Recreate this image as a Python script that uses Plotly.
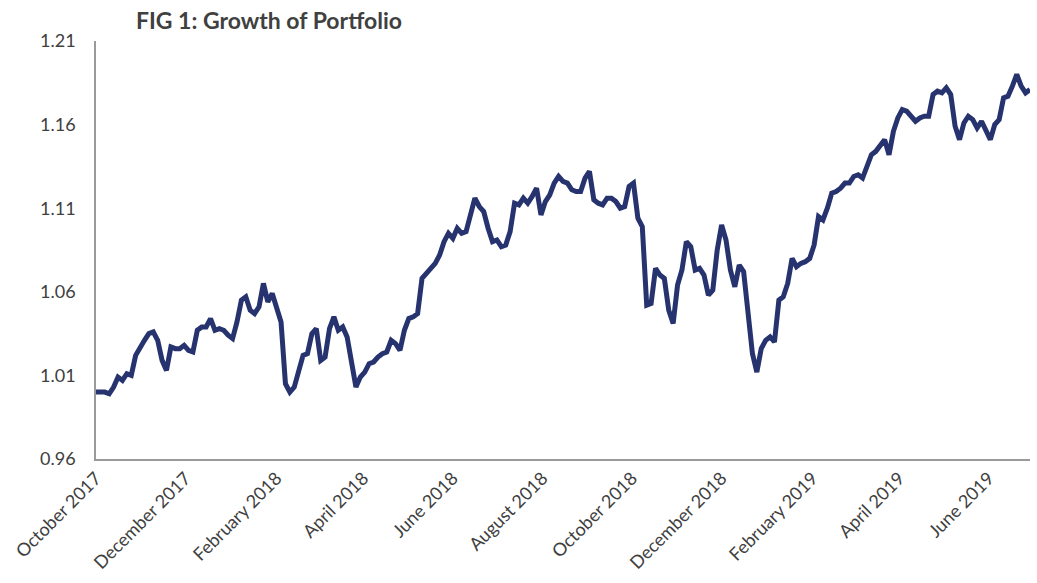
import pandas as pd
import plotly.graph_objects as go

title_text = "FIG 1: Growth of Portfolio"
start_date = "2017-10-01"
step = "3D"

portfolio_values = [
    1.000, 1.000, 1.000, 0.999, 1.003, 1.009, 1.007, 1.011, 1.010, 1.022,
    1.027, 1.031, 1.035, 1.036, 1.031, 1.019, 1.013, 1.027, 1.026, 1.026,
    1.028, 1.025, 1.024, 1.037, 1.039, 1.039, 1.044, 1.037, 1.038, 1.037,
    1.034, 1.032, 1.042, 1.055, 1.057, 1.049, 1.047, 1.051, 1.065, 1.054,
    1.059, 1.050, 1.042, 1.005, 1.000, 1.003, 1.012, 1.022, 1.023, 1.035,
    1.038, 1.019, 1.021, 1.038, 1.045, 1.037, 1.039, 1.033, 1.018, 1.003,
    1.009, 1.012, 1.017, 1.018, 1.021, 1.023, 1.024, 1.031, 1.029, 1.025,
    1.037, 1.044, 1.045, 1.047, 1.068, 1.071, 1.075, 1.077, 1.082, 1.090,
    1.095, 1.092, 1.098, 1.095, 1.096, 1.105, 1.116, 1.111, 1.108, 1.098,
    1.090, 1.091, 1.087, 1.088, 1.096, 1.113, 1.112, 1.116, 1.113, 1.117,
    1.122, 1.106, 1.114, 1.118, 1.125, 1.129, 1.126, 1.125, 1.121, 1.120,
    1.120, 1.128, 1.132, 1.115, 1.113, 1.112, 1.116, 1.116, 1.114, 1.110,
    1.111, 1.123, 1.125, 1.104, 1.099, 1.052, 1.053, 1.074, 1.070, 1.068,
    1.049, 1.041, 1.064, 1.073, 1.090, 1.087, 1.073, 1.074, 1.070, 1.058,
    1.061, 1.085, 1.100, 1.091, 1.073, 1.063, 1.076, 1.072, 1.049, 1.023,
    1.012, 1.026, 1.031, 1.033, 1.030, 1.055, 1.057, 1.065, 1.080, 1.075,
    1.077, 1.078, 1.080, 1.088, 1.105, 1.103, 1.110, 1.119, 1.120, 1.122,
    1.125, 1.125, 1.129, 1.130, 1.128, 1.136, 1.142, 1.144, 1.148, 1.151,
    1.142, 1.156, 1.164, 1.169, 1.168, 1.165, 1.162, 1.164, 1.165, 1.165,
    1.178, 1.180, 1.179, 1.182, 1.178, 1.159, 1.151, 1.161, 1.165, 1.163,
    1.158, 1.162, 1.157, 1.151, 1.160, 1.163, 1.176, 1.177, 1.183, 1.190,
    1.183, 1.179, 1.181,
]
dates = pd.date_range(start_date, periods=len(portfolio_values), freq=step)

y_ticks = [0.96, 1.01, 1.06, 1.11, 1.16, 1.21]
y_tick_labels = ["0.96", "1.01", "1.06", "1.11", "1.16", "1.21"]

text_color = "#404040"
axis_color = "#9A9A9A"
line_color = "#26336E"
font_family = "Lato, 'Open Sans', sans-serif"

fig = go.Figure(
    go.Scatter(
        x=dates,
        y=portfolio_values,
        mode="lines",
        line=dict(color=line_color, width=5),
        hoverinfo="skip",
    )
)

fig.update_layout(
    width=1037,
    height=583,
    margin=dict(l=96, r=7, t=41, b=124),
    paper_bgcolor="white",
    plot_bgcolor="white",
    showlegend=False,
    font=dict(family=font_family, color=text_color, size=18),
    annotations=[
        dict(
            text="<b>" + title_text + "</b>",
            xref="paper", yref="paper",
            x=(134 - 96) / 934, y=1.0,
            xanchor="left", yanchor="bottom",
            yshift=5,
            showarrow=False,
            font=dict(family=font_family, size=23, color=text_color),
        )
    ],
)

fig.update_xaxes(
    range=[dates[0], dates[-1]],
    tick0=start_date,
    dtick="M2",
    tickformat="%B %Y",
    tickangle=-45,
    showgrid=False,
    zeroline=False,
    showline=True,
    linecolor=axis_color,
    linewidth=1.5,
    ticks="",
    tickfont=dict(size=18, color=text_color),
)
fig.update_yaxes(
    range=[0.96, 1.21],
    tickvals=y_ticks,
    ticktext=y_tick_labels,
    showgrid=False,
    zeroline=False,
    showline=True,
    linecolor=axis_color,
    linewidth=1.5,
    ticks="",
    ticklabelstandoff=15,
    tickfont=dict(size=18, color=text_color),
)

fig.write_html("out.html")
